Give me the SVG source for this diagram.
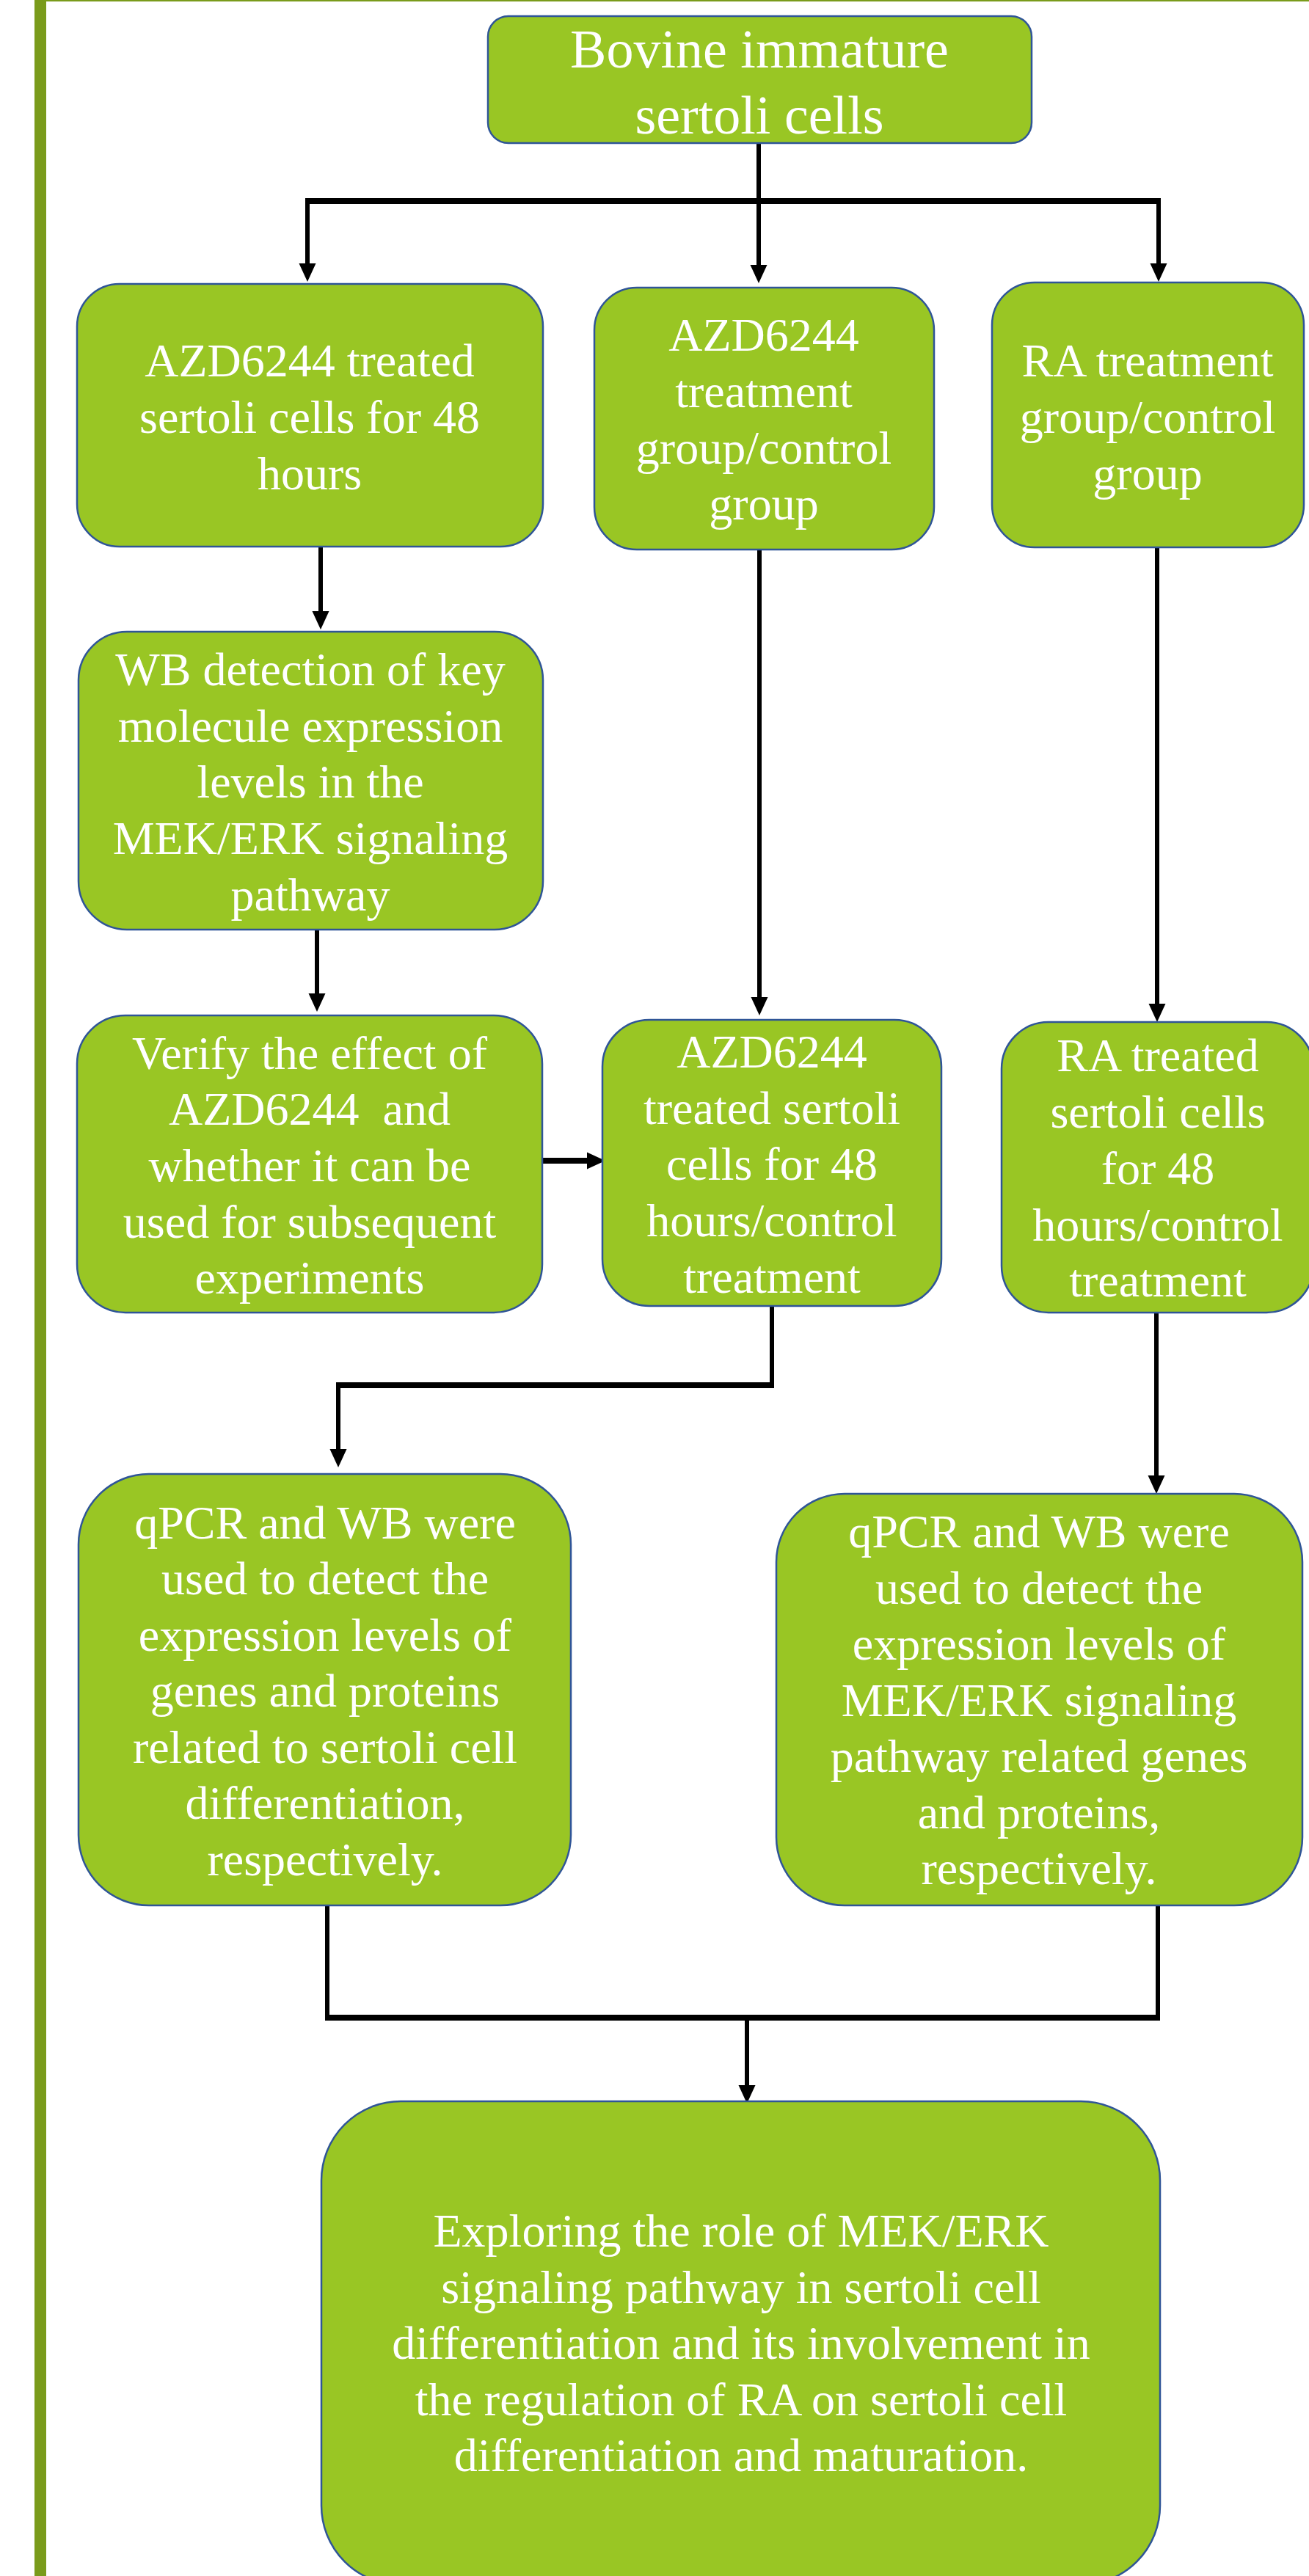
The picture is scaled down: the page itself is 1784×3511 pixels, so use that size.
<svg xmlns="http://www.w3.org/2000/svg" width="1784" height="3511" viewBox="0 0 1784 3511">
<style>
.box{fill:#99C624;stroke:#2F5597;stroke-width:2.5}
.t{fill:#FFFFFF;font-family:"Liberation Serif","Times New Roman",serif;font-size:64px;text-anchor:middle}
.tt{font-size:74px}
.ln{fill:none;stroke:#000000;stroke-width:6;stroke-linejoin:miter;stroke-linecap:butt}
.thk{stroke-width:8}
</style>
<defs>
<marker id="arr" markerUnits="userSpaceOnUse" markerWidth="26" markerHeight="24" refX="0" refY="11.5" orient="auto" overflow="visible">
<path d="M0,0 L25,11.5 L0,23 Z" fill="#000000"/>
</marker>
</defs>
<rect x="0" y="0" width="1784" height="3511" fill="#FFFFFF"/>
<g id="frame">
<rect x="47" y="0" width="16" height="3511" fill="#7A9B1B"/>
<rect x="47" y="0" width="1737" height="2" fill="#7A9B1B"/>
</g>
<g id="connectors">
<path class="ln" d="M1034,195 L1034,361" marker-end="url(#arr)"/>
<path class="ln thk" d="M416,274 L1582,274"/>
<path class="ln" d="M419,274 L419,359" marker-end="url(#arr)"/>
<path class="ln" d="M1579,274 L1579,359" marker-end="url(#arr)"/>
<path class="ln" d="M437,745 L437,833" marker-end="url(#arr)"/>
<path class="ln" d="M432,1267 L432,1354" marker-end="url(#arr)"/>
<path class="ln" d="M1035,749 L1035,1359" marker-end="url(#arr)"/>
<path class="ln" d="M1577,746 L1577,1368" marker-end="url(#arr)"/>
<path class="ln thk" d="M740,1582 L800,1582" marker-end="url(#arr)"/>
<path class="ln" d="M1052,1780 L1052,1888"/>
<path class="ln thk" d="M1055,1888 L458,1888"/>
<path class="ln" d="M461,1888 L461,1975" marker-end="url(#arr)"/>
<path class="ln" d="M1576,1789 L1576,2011" marker-end="url(#arr)"/>
<path class="ln" d="M446,2597 L446,2750"/>
<path class="ln" d="M1578,2597 L1578,2750"/>
<path class="ln thk" d="M443,2750 L1581,2750"/>
<path class="ln" d="M1018,2750 L1018,2842" marker-end="url(#arr)"/>
</g>
<g id="n_top">
<rect class="box" x="665" y="22" width="741" height="173" rx="28"/>
<text class="t tt"><tspan x="1035" y="92">Bovine immature</tspan><tspan x="1035" y="182">sertoli cells</tspan></text>
</g>
<g id="n_azd_treated">
<rect class="box" x="105" y="387" width="635" height="358" rx="58"/>
<text class="t"><tspan x="422" y="513">AZD6244 treated</tspan><tspan x="422" y="590">sertoli cells for 48</tspan><tspan x="422" y="667">hours</tspan></text>
</g>
<g id="n_azd_group">
<rect class="box" x="810" y="392" width="463" height="357" rx="58"/>
<text class="t"><tspan x="1041" y="478">AZD6244</tspan><tspan x="1041" y="555">treatment</tspan><tspan x="1041" y="632">group/control</tspan><tspan x="1041" y="708">group</tspan></text>
</g>
<g id="n_ra_group">
<rect class="box" x="1352" y="385" width="425" height="361" rx="58"/>
<text class="t"><tspan x="1564" y="513">RA treatment</tspan><tspan x="1564" y="590">group/control</tspan><tspan x="1564" y="667">group</tspan></text>
</g>
<g id="n_wb">
<rect class="box" x="107" y="861" width="633" height="406" rx="66"/>
<text class="t"><tspan x="423" y="934">WB detection of key</tspan><tspan x="423" y="1011">molecule expression</tspan><tspan x="423" y="1087">levels in the</tspan><tspan x="423" y="1164">MEK/ERK signaling</tspan><tspan x="423" y="1241">pathway</tspan></text>
</g>
<g id="n_verify">
<rect class="box" x="105" y="1384" width="634" height="405" rx="66"/>
<text class="t" xml:space="preserve"><tspan x="422" y="1457">Verify the effect of</tspan><tspan x="422" y="1533">AZD6244  and</tspan><tspan x="422" y="1610">whether it can be</tspan><tspan x="422" y="1687">used for subsequent</tspan><tspan x="422" y="1763">experiments</tspan></text>
</g>
<g id="n_azd_48">
<rect class="box" x="821" y="1390" width="462" height="390" rx="64"/>
<text class="t"><tspan x="1052" y="1455">AZD6244</tspan><tspan x="1052" y="1532">treated sertoli</tspan><tspan x="1052" y="1608">cells for 48</tspan><tspan x="1052" y="1685">hours/control</tspan><tspan x="1052" y="1762">treatment</tspan></text>
</g>
<g id="n_ra_48">
<rect class="box" x="1365" y="1393" width="425" height="396" rx="64"/>
<text class="t"><tspan x="1578" y="1460">RA treated</tspan><tspan x="1578" y="1537">sertoli cells</tspan><tspan x="1578" y="1614">for 48</tspan><tspan x="1578" y="1691">hours/control</tspan><tspan x="1578" y="1767">treatment</tspan></text>
</g>
<g id="n_qpcr_left">
<rect class="box" x="107" y="2009" width="671" height="588" rx="96"/>
<text class="t"><tspan x="443" y="2097">qPCR and WB were</tspan><tspan x="443" y="2173">used to detect the</tspan><tspan x="443" y="2250">expression levels of</tspan><tspan x="443" y="2326">genes and proteins</tspan><tspan x="443" y="2403">related to sertoli cell</tspan><tspan x="443" y="2479">differentiation,</tspan><tspan x="443" y="2556">respectively.</tspan></text>
</g>
<g id="n_qpcr_right">
<rect class="box" x="1058" y="2036" width="717" height="561" rx="93"/>
<text class="t"><tspan x="1416" y="2109">qPCR and WB were</tspan><tspan x="1416" y="2186">used to detect the</tspan><tspan x="1416" y="2262">expression levels of</tspan><tspan x="1416" y="2339">MEK/ERK signaling</tspan><tspan x="1416" y="2415">pathway related genes</tspan><tspan x="1416" y="2492">and proteins,</tspan><tspan x="1416" y="2568">respectively.</tspan></text>
</g>
<g id="n_final">
<rect class="box" x="438" y="2864" width="1143" height="659" rx="108"/>
<text class="t"><tspan x="1010" y="3062">Exploring the role of MEK/ERK</tspan><tspan x="1010" y="3139">signaling pathway in sertoli cell</tspan><tspan x="1010" y="3215">differentiation and its involvement in</tspan><tspan x="1010" y="3292">the regulation of RA on sertoli cell</tspan><tspan x="1010" y="3368">differentiation and maturation.</tspan></text>
</g>
</svg>
